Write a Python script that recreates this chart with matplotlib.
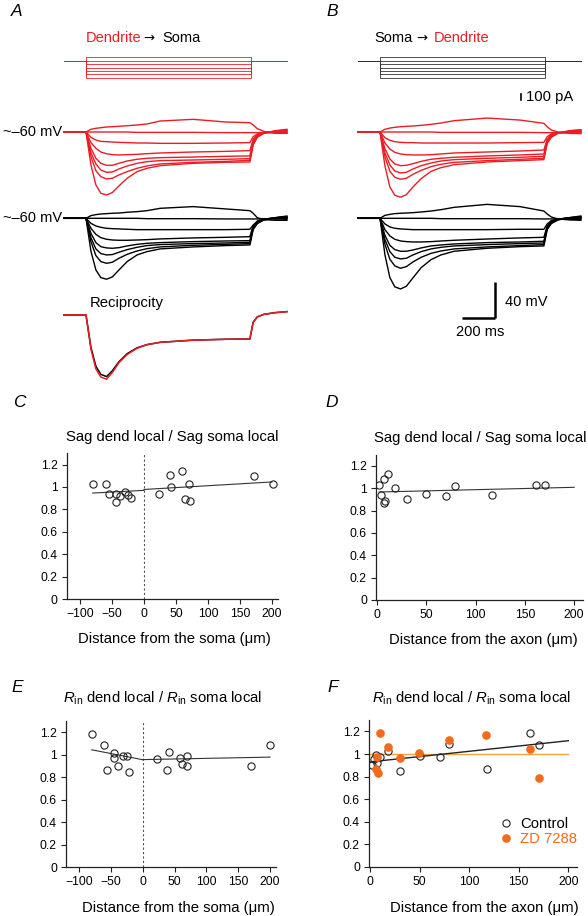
import matplotlib.pyplot as plt
from matplotlib.lines import Line2D

plt.rcParams['font.family'] = ['Liberation Sans', 'DejaVu Sans']
plt.rcParams['mathtext.fontset'] = 'custom'
plt.rcParams['mathtext.rm'] = 'Liberation Sans'
plt.rcParams['mathtext.it'] = 'Liberation Sans:italic'

W, H = 588, 916
RED = '#ec1c24'
ORANGE = '#f26b1d'
LORANGE = '#f4a23c'

# ---- voltage traces: time (ms from step onset) and voltage (mV from rest)
t = [-135, 0, 30, 60, 90, 125, 160, 200, 250, 310, 370, 450, 650, 850, 995,
     1015, 1040, 1080, 1150, 1220]

a_red = [
    [0, 0, 3.0, 4.1, 4.8, 5.6, 5.9, 6.3, 7.0, 7.8, 8.9, 12.2, 14.1, 11.1, 10.4, 7.8, 3.7, 0.7, -1.5, -1.5],
    [0, 0, 0, 0, 0, 0, 0, 0, 0, -0.4, -0.4, -0.4, -0.4, -0.7, -0.7, -0.7, -0.7, -0.7, -0.7, -1.1],
    [0, 0, -5.9, -8.9, -10.4, -10.7, -11.1, -11.5, -11.8, -12.2, -12.2, -12.6, -12.6, -12.2, -11.8, -5.2, -2.2, -0.7, -0.4, -0.4],
    [0, 0, -11.8, -18.1, -22.2, -24.1, -25.2, -25.5, -25.2, -24.8, -24.1, -23.3, -22.2, -21.5, -20.7, -8.1, -3.0, -0.7, 0, 0],
    [0, 0, -18.1, -29.2, -34.8, -37.0, -37.0, -34.8, -32.2, -30.3, -29.2, -28.5, -27.8, -27.0, -26.6, -10.7, -3.7, -0.7, 0.4, 0.7],
    [0, 0, -22.9, -35.5, -42.2, -44.8, -44.4, -41.1, -37.7, -34.8, -32.9, -31.8, -31.1, -30.3, -29.6, -11.8, -4.4, -0.7, 0.7, 1.5],
    [0, 0, -27.4, -42.9, -49.6, -52.2, -51.4, -47.7, -44.0, -40.3, -37.7, -35.5, -33.7, -32.6, -31.5, -13.3, -5.2, -1.1, 1.1, 2.2],
    [0, 0, -36.6, -58.8, -68.1, -69.9, -67.3, -59.9, -51.4, -44.0, -40.3, -37.4, -34.8, -33.7, -33.3, -14.4, -5.9, -1.5, 1.5, 3.0],
]
a_black = [
    [0, 0, 3.0, 4.1, 4.8, 5.2, 5.6, 5.9, 6.7, 7.4, 8.5, 11.1, 13.0, 10.4, 8.5, 5.6, 0.7, -1.5, -2.2, -2.2],
    [0, 0, 0, 0, 0, 0, 0, 0, 0, 0, -0.4, -0.4, -0.4, -0.7, -0.7, -0.7, -0.7, -0.7, -0.7, -1.1],
    [0, 0, -5.6, -8.5, -10.0, -11.1, -11.5, -11.8, -12.2, -12.6, -12.6, -12.6, -12.6, -12.6, -12.2, -7.4, -3.7, -1.5, -0.4, 0],
    [0, 0, -11.1, -17.8, -21.5, -23.3, -24.1, -24.4, -24.4, -24.1, -23.7, -22.9, -21.8, -21.1, -20.4, -8.1, -3.0, -0.7, 0, 0.4],
    [0, 0, -16.7, -27.0, -31.5, -32.9, -33.3, -32.6, -30.7, -28.9, -27.8, -27.0, -25.9, -25.2, -24.8, -9.3, -3.7, -0.7, 0.4, 0.7],
    [0, 0, -21.5, -34.0, -39.2, -40.7, -40.3, -37.7, -34.8, -32.2, -30.3, -29.2, -28.1, -27.4, -26.6, -10.4, -4.4, -1.1, 0.7, 1.5],
    [0, 0, -25.9, -41.4, -48.1, -50.0, -48.8, -44.4, -40.0, -36.3, -33.7, -31.8, -30.0, -28.9, -28.1, -11.1, -5.2, -1.5, 0.7, 1.8],
    [0, 0, -36.6, -57.4, -65.9, -67.7, -65.1, -57.4, -48.1, -40.7, -37.0, -34.0, -31.8, -30.3, -29.6, -12.6, -5.9, -1.9, 0.7, 2.6],
]
b_red = [
    [0, 0, 3.0, 4.4, 5.2, 5.9, 6.3, 6.7, 7.4, 8.5, 10.0, 12.6, 15.5, 13.3, 9.6, 5.9, 2.2, 0, -1.5, -1.8],
    [0, 0, 0, 0, 0, 0, 0, 0, 0, 0, -0.4, -0.4, -0.4, -0.4, -0.7, -0.7, -0.7, -0.7, -1.1, -1.1],
    [0, 0, -6.3, -9.3, -10.7, -11.5, -11.8, -11.8, -12.2, -12.2, -12.2, -12.2, -12.2, -11.8, -11.5, -5.2, -2.2, -0.7, -0.4, 0],
    [0, 0, -12.2, -18.9, -22.6, -24.4, -25.2, -25.5, -25.5, -25.2, -24.4, -23.3, -22.2, -21.1, -20.0, -8.1, -3.0, -0.7, 0, 0.4],
    [0, 0, -18.5, -30.0, -35.5, -37.4, -37.0, -35.2, -32.6, -30.3, -29.2, -28.1, -26.6, -25.5, -24.4, -9.6, -3.7, -0.7, 0.4, 0.7],
    [0, 0, -23.3, -36.6, -43.3, -45.5, -44.8, -41.1, -37.4, -34.4, -32.2, -30.7, -29.2, -28.1, -27.0, -10.7, -4.4, -1.1, 0.7, 1.5],
    [0, 0, -27.8, -43.7, -50.3, -52.5, -51.4, -47.0, -42.6, -38.5, -35.9, -33.7, -31.8, -30.3, -29.2, -11.8, -5.2, -1.1, 1.1, 2.2],
    [0, 0, -37.7, -61.1, -70.3, -72.5, -69.6, -61.1, -51.8, -43.7, -39.6, -36.3, -33.3, -31.8, -30.7, -12.6, -5.9, -1.5, 1.5, 2.6],
]
b_black = [
    [0, 0, 3.3, 4.4, 5.2, 5.6, 5.9, 6.3, 7.0, 8.1, 9.6, 12.2, 15.5, 13.0, 8.1, 4.8, 1.5, -0.7, -1.8, -2.2],
    [0, 0, 0, 0, 0, 0, 0, 0, 0, 0, -0.4, -0.4, -0.4, -0.4, -0.7, -0.7, -0.7, -0.7, -1.1, -1.1],
    [0, 0, -6.3, -9.6, -11.1, -11.8, -12.2, -12.6, -12.6, -12.6, -12.6, -12.6, -12.6, -12.2, -12.2, -6.3, -2.6, -0.7, -0.4, 0],
    [0, 0, -12.6, -19.6, -23.3, -25.2, -25.9, -26.3, -26.3, -25.9, -25.2, -24.4, -23.0, -21.8, -21.1, -8.5, -3.3, -0.7, 0, 0.4],
    [0, 0, -18.9, -30.0, -34.8, -36.6, -36.6, -35.2, -32.9, -30.7, -29.6, -28.5, -27.0, -26.3, -25.5, -10.0, -3.7, -0.7, 0.4, 0.7],
    [0, 0, -23.7, -37.0, -43.3, -45.1, -44.4, -40.7, -37.0, -34.0, -32.2, -30.7, -29.2, -28.1, -27.4, -10.7, -4.4, -1.1, 0.7, 1.5],
    [0, 0, -28.9, -45.5, -52.9, -55.5, -53.7, -48.5, -43.3, -38.9, -36.3, -34.0, -31.8, -30.3, -29.2, -11.8, -5.2, -1.5, 0.7, 1.8],
    [0, 0, -40.7, -65.9, -76.2, -78.5, -75.5, -66.2, -54.8, -45.9, -40.7, -36.6, -33.3, -31.5, -30.7, -12.6, -5.9, -1.9, 0.7, 2.6],
]
recip_red = [0, 0, -38, -60, -69, -71.4, -64, -53, -44, -37, -33, -30.4, -28, -27, -26.7, -8, -2.2, 0.7, 2.6, 3.7]
recip_black = [0, 0, -36, -57, -66, -68.5, -62, -52, -43, -36.5, -33, -30.4, -28, -27, -26.7, -8, -2.2, 0.7, 2.6, 3.7]

# current step protocol (pA)
step_t = [-135, 0, 0, 1000, 1000, 1220]
steps = [60, 0, -60, -120, -180, -240, -300]

# ---- distance plots
c_x = [-80, -60, -55, -44, -44, -38, -30, -25, -21, 23, 41, 42, 60, 64, 71, 72, 172, 202]
c_y = [1.03, 1.03, 0.94, 0.94, 0.87, 0.92, 0.955, 0.93, 0.90, 0.94, 1.11, 1.0, 1.14, 0.89, 1.03, 0.875, 1.095, 1.03]
c_fit_left = ([-80, 0], [0.946, 0.970])
c_fit_right = ([0, 200], [0.978, 1.045])

d_x = [2, 4, 6.5, 7, 8, 10.5, 18, 30.5, 49.5, 70, 79, 117, 161, 170]
d_y = [1.027, 0.94, 1.083, 0.87, 0.886, 1.128, 1.0, 0.90, 0.95, 0.934, 1.024, 0.937, 1.027, 1.03]
d_fit = ([2, 200], [0.967, 1.009])

e_x = [-80, -60, -45, -45, -56, -38, -30.5, -25, -22, 22, 41, 39, 59, 62, 70, 70, 170, 200]
e_y = [1.187, 1.09, 1.018, 0.973, 0.867, 0.899, 0.991, 0.991, 0.849, 0.961, 1.023, 0.867, 0.97, 0.914, 0.985, 0.899, 0.899, 1.083]
e_fit_left = ([-80, 0], [1.044, 0.956])
e_fit_right = ([0, 200], [0.957, 0.979])

f_x = [2, 4, 7, 10, 6, 18, 30, 50, 70.6, 79.6, 117.6, 161, 170]
f_y = [0.90, 0.96, 0.92, 0.97, 0.99, 1.027, 0.846, 0.985, 0.97, 1.089, 0.866, 1.184, 1.083]
zd_x = [10, 7.4, 6, 7.7, 17.8, 30.6, 49.7, 79.6, 117.3, 161.6, 170]
zd_y = [1.184, 0.976, 0.869, 0.834, 1.06, 0.964, 1.009, 1.127, 1.169, 1.042, 0.784]
f_fit = ([1, 200], [0.931, 1.118])
zd_fit = ([0, 200], [1.0, 1.0])

yticks = [0, 0.2, 0.4, 0.6, 0.8, 1, 1.2]
ylabels = ['0', '0.2', '0.4', '0.6', '0.8', '1', '1.2']

fig = plt.figure(figsize=(W / 100, H / 100), dpi=100)


def px(x, y):
    return x / W, 1 - y / H


def trace_axes(x0, name):
    # 0.1647 px per ms, 0.9 px per mV, rest of the red traces at y = 132 px
    rect = [x0 / W, 1 - 400 / H, 294 / W, 400 / H]
    av = fig.add_axes(rect, label='v' + name)
    av.set_xlim(-522.2, 1262.9)
    av.set_ylim(-297.8, 146.7)
    av.axis('off')
    ai = fig.add_axes(rect, label='i' + name)
    ai.set_xlim(-522.2, 1262.9)
    ai.set_ylim(-5953, 1064.9)
    ai.axis('off')
    return av, ai


black_off = -95.9
recip_off = -203.3
ARROW_FONT = ['DejaVu Sans']

# ---- panel A
avA, aiA = trace_axes(0, 'A')
for s in steps:
    aiA.plot(step_t, [0, 0, s, s, 0, 0], color=RED, lw=0.6)
for tr in a_red:
    avA.plot(t, tr, color=RED, lw=1.0)
for tr in a_black:
    avA.plot(t, [v + black_off for v in tr], color='black', lw=1.0)
avA.plot(t, [v + recip_off for v in recip_black], color='black', lw=1.1)
avA.plot(t, [v + recip_off for v in recip_red], color=RED, lw=1.1)
avA.text(-148, 0, '~\u201360 mV', ha='right', va='center', fontsize=10.5)
avA.text(-148, black_off, '~\u201360 mV', ha='right', va='center', fontsize=10.5)
avA.text(24, -189.7, 'Reciprocity', ha='left', va='center', fontsize=10.7)

fig.text(*px(86, 37.7), 'Dendrite', color=RED, ha='left', va='center', fontsize=10.5)
fig.text(*px(143.5, 38.5), '\u2192', ha='left', va='center', fontsize=9.5, family=ARROW_FONT)
fig.text(*px(162.5, 37.7), 'Soma', ha='left', va='center', fontsize=10.5)

# ---- panel B
avB, aiB = trace_axes(294, 'B')
for s in steps:
    aiB.plot(step_t, [0, 0, s, s, 0, 0], color='#333333', lw=0.6)
for tr in b_red:
    avB.plot(t, tr, color=RED, lw=1.0)
for tr in b_black:
    avB.plot(t, [v + black_off for v in tr], color='black', lw=1.0)

aiB.plot([854, 854], [-690, -590], color='black', lw=1.2)
aiB.text(885, -640, '100 pA', ha='left', va='center', fontsize=10.7)
avB.plot([500, 700], [-206.3, -206.3], color='black', lw=1.8, solid_capstyle='butt')
avB.plot([700, 700], [-207.2, -166.3], color='black', lw=1.8, solid_capstyle='butt')
avB.text(759, -188.6, '40 mV', ha='left', va='center', fontsize=10.5)
avB.text(607, -222, '200 ms', ha='center', va='center', fontsize=10.5)

fig.text(*px(374, 37.7), 'Soma', ha='left', va='center', fontsize=10.5)
fig.text(*px(416, 38.5), '\u2192', ha='left', va='center', fontsize=9.5, family=ARROW_FONT)
fig.text(*px(434, 37.7), 'Dendrite', color=RED, ha='left', va='center', fontsize=10.5)


# ---- distance panels
def dist_axes(left, right, top, bottom, xlim, xticks, xlabels):
    ax = fig.add_axes([left / W, 1 - bottom / H, (right - left) / W, (bottom - top) / H])
    ax.set_xlim(*xlim)
    ax.set_ylim(0, 1.3)
    for side in ['top', 'right']:
        ax.spines[side].set_visible(False)
    for side in ['left', 'bottom']:
        ax.spines[side].set_linewidth(0.9)
        ax.spines[side].set_color('#222222')
    ax.set_yticks(yticks)
    ax.set_yticklabels(ylabels)
    ax.set_xticks(xticks)
    ax.set_xticklabels(xlabels)
    ax.tick_params(direction='out', length=3.5, width=0.8, labelsize=8.7, pad=3, color='#222222')
    ax.set_facecolor('none')
    return ax


soma_ticks = [-100, -50, 0, 50, 100, 150, 200]
soma_labels = ['\u2212100', '\u221250', '0', '50', '100', '150', '200']
axon_ticks = [0, 50, 100, 150, 200]
axon_labels = ['0', '50', '100', '150', '200']

circ = dict(ls='none', marker='o', mfc='none', mec='#222222', ms=5.2, mew=0.8)
fit = dict(color='#333333', lw=0.8)

axC = dist_axes(66.7, 278, 453.4, 599, (-120.8, 209.4), soma_ticks, soma_labels)
axC.axvline(0, color='#555555', lw=0.8, ls=(0, (2, 2)))
axC.plot(*c_fit_left, **fit)
axC.plot(*c_fit_right, **fit)
axC.plot(c_x, c_y, **circ)

axD = dist_axes(376, 583, 454.8, 600, (-1.3, 209), axon_ticks, axon_labels)
axD.plot(*d_fit, **fit)
axD.plot(d_x, d_y, **circ)

axE = dist_axes(66, 276, 721, 867.3, (-120.4, 209.4), soma_ticks, soma_labels)
axE.axvline(0, color='#555555', lw=0.8, ls=(0, (2, 2)))
axE.plot(*e_fit_left, **fit)
axE.plot(*e_fit_right, **fit)
axE.plot(e_x, e_y, **circ)

axF = dist_axes(369, 577.3, 720.2, 866.7, (-1, 209), axon_ticks, axon_labels)
axF.plot(*zd_fit, color=LORANGE, lw=1.0)
axF.plot(*f_fit, color='#222222', lw=1.0)
axF.plot(f_x, f_y, **circ)
axF.plot(zd_x, zd_y, ls='none', marker='o', mfc=ORANGE, mec=ORANGE, ms=5.2)

handles = [Line2D([], [], **circ),
           Line2D([], [], ls='none', marker='o', mfc=ORANGE, mec=ORANGE, ms=5.2)]
leg = fig.legend(handles, ['Control', 'ZD 7288'], loc='upper left',
                 bbox_to_anchor=px(499, 817), frameon=False, fontsize=10.7,
                 handlelength=1.0, handletextpad=0.4, labelspacing=0.1,
                 borderpad=0, borderaxespad=0)
leg.get_texts()[1].set_color(ORANGE)

# titles and axis labels
sag = 'Sag dend local / Sag soma local'
rin = r'$R_{\mathrm{in}}$ dend local / $R_{\mathrm{in}}$ soma local'
fig.text(*px(172, 437), sag, ha='center', va='center', fontsize=10.7)
fig.text(*px(480, 438), sag, ha='center', va='center', fontsize=10.7)
fig.text(*px(162.5, 698.3), rin, ha='center', va='center', fontsize=10.7)
fig.text(*px(472, 698.3), rin, ha='center', va='center', fontsize=10.7)
fig.text(*px(174.3, 639), 'Distance from the soma (\u03bcm)', ha='center', va='center', fontsize=10.7)
fig.text(*px(483.3, 640), 'Distance from the axon (\u03bcm)', ha='center', va='center', fontsize=10.7)
fig.text(*px(178.5, 907.7), 'Distance from the soma (\u03bcm)', ha='center', va='center', fontsize=10.7)
fig.text(*px(484.5, 907.7), 'Distance from the axon (\u03bcm)', ha='center', va='center', fontsize=10.7)

# panel letters
for letter, x, y in [('A', 17, 11), ('B', 332, 12), ('C', 19, 402), ('D', 332, 402),
                     ('E', 17, 688), ('F', 333, 688)]:
    fig.text(*px(x, y), letter, style='italic', ha='center', va='center', fontsize=12.5)

fig.savefig('out.png', dpi=100)
